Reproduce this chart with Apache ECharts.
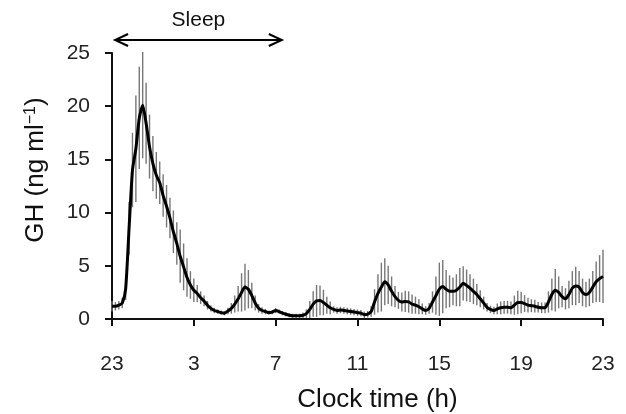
<!DOCTYPE html>
<html>
<head>
<meta charset="utf-8">
<script src="https://cdn.jsdelivr.net/npm/echarts@6.0.0/dist/echarts.min.js"></script>
<style>
  html, body { margin: 0; padding: 0; background: #fff; }
  #chart { width: 626px; height: 414px; }
</style>
</head>
<body>
<div id="chart"></div>
<script>
// GH sampled every 10 min, from 23:00 (0 h) to 23:00 next day (24 h)
var stepHours = 1 / 6;

var ghMean = [
  1.2, 1.2, 1.3, 1.5, 2.8, 8.5, 14.0, 16.0, 18.9, 20.1,
  18.4, 16.2, 14.6, 13.5, 12.8, 11.6, 10.6, 9.5, 8.2, 7.1,
  5.9, 4.9, 3.9, 3.2, 2.7, 2.4, 2.0, 1.7, 1.3, 1.0,
  0.8, 0.7, 0.6, 0.55, 0.75, 1.0, 1.4, 1.9, 2.5, 3.0,
  2.8, 2.2, 1.5, 1.0, 0.8, 0.7, 0.6, 0.65, 0.8, 0.7,
  0.55, 0.45, 0.35, 0.3, 0.3, 0.3, 0.35, 0.5, 0.9, 1.4,
  1.7, 1.75, 1.55, 1.3, 1.05, 0.9, 0.8, 0.85, 0.8, 0.75,
  0.7, 0.65, 0.6, 0.55, 0.4, 0.45, 0.7, 1.6, 2.4, 3.0,
  3.5, 3.2, 2.6, 2.1, 1.75, 1.6, 1.65, 1.6, 1.4, 1.3,
  1.15, 0.95, 0.8, 1.0, 1.6, 2.2, 2.8, 3.05, 2.8, 2.6,
  2.6, 2.7, 3.0, 3.35, 3.15, 2.9, 2.6, 2.3, 1.9, 1.5,
  1.1, 0.9, 0.8, 0.95, 1.05, 1.1, 1.1, 1.05, 1.3, 1.55,
  1.55, 1.45, 1.3, 1.25, 1.2, 1.1, 1.05, 1.05, 1.6, 2.3,
  2.7, 2.5, 2.1, 1.9, 2.3, 2.9, 3.1, 3.0, 2.5, 2.3,
  2.5, 3.0, 3.5, 3.8, 4.0
];

var ghSE = [
  0.5, 0.4, 0.4, 0.5, 1.0, 2.5, 3.5, 5.0, 4.8, 5.0,
  3.8, 3.0, 2.6, 2.2, 2.0, 2.0, 2.0, 1.9, 2.0, 2.0,
  2.5, 2.2, 1.8, 1.3, 1.1, 0.8, 0.6, 0.5, 0.4, 0.3,
  0.25, 0.2, 0.2, 0.2, 0.3, 0.5, 0.8, 1.2, 1.8, 2.2,
  1.8, 1.2, 0.7, 0.4, 0.3, 0.25, 0.2, 0.2, 0.25, 0.2,
  0.2, 0.2, 0.2, 0.2, 0.2, 0.2, 0.25, 0.4, 0.8, 1.2,
  1.5, 1.4, 1.2, 0.8, 0.6, 0.3, 0.3, 0.3, 0.3, 0.3,
  0.3, 0.3, 0.3, 0.3, 0.3, 0.3, 0.5, 1.2, 1.8, 2.3,
  2.2, 1.8, 1.4, 1.0, 0.8, 0.9, 1.0, 1.0, 0.9, 0.8,
  0.7, 0.5, 0.4, 0.5, 1.0, 1.8, 2.5, 2.5, 1.8, 1.5,
  1.3, 1.5, 1.8, 1.6, 1.5, 1.3, 1.2, 1.0, 0.8, 0.6,
  0.4, 0.35, 0.35, 0.5, 0.6, 0.6, 0.6, 0.6, 0.9, 1.1,
  1.0, 0.8, 0.7, 0.6, 0.6, 0.5, 0.5, 0.5, 1.0, 1.5,
  2.0, 1.5, 1.0, 1.0, 1.3, 1.6, 1.8, 1.5, 1.3, 1.2,
  1.3, 1.5, 1.9, 2.2, 2.5
];

// sleep period, hours after 23:00
var sleepSpan = [0.15, 8.3];

var font = 'Liberation Sans, Arial, Helvetica, sans-serif';

var lineData = ghMean.map(function (v, i) { return [i * stepHours, v]; });
var barData = ghMean.map(function (v, i) { return [i * stepHours, v - ghSE[i], v + ghSE[i]]; });

var chart = echarts.init(document.getElementById('chart'));

chart.setOption({
  animation: false,
  grid: { left: 112, right: 23, top: 53, bottom: 95, containLabel: false, outerBoundsMode: 'none' },
  xAxis: {
    type: 'value',
    min: 0,
    max: 24,
    interval: 4,
    offset: 14,
    name: 'Clock time (h)',
    nameLocation: 'middle',
    nameGap: 54,
    nameTextStyle: { fontSize: 26, color: '#111', fontFamily: font, padding: [0, 0, 0, 40] },
    axisLine: { show: true, lineStyle: { color: '#111', width: 2 } },
    axisTick: { show: true, inside: false, length: 7, lineStyle: { color: '#111', width: 2 } },
    axisLabel: {
      fontSize: 21, color: '#222', fontFamily: font, margin: 21,
      formatter: function (v) { return String((23 + v) % 24); }
    },
    splitLine: { show: false }
  },
  yAxis: {
    type: 'value',
    min: 0,
    max: 25,
    interval: 5,
    name: 'GH (ng ml{sup|−1})',
    nameLocation: 'middle',
    nameGap: 63,
    nameTextStyle: {
      fontSize: 26, color: '#111', fontFamily: font, padding: [0, 0, 0, 32],
      rich: { sup: { fontSize: 16, fontFamily: font, color: '#111', verticalAlign: 'top', padding: [0, 0, 9, 0] } }
    },
    axisLine: { show: true, lineStyle: { color: '#111', width: 2 } },
    axisTick: { show: true, inside: false, length: 7, lineStyle: { color: '#111', width: 2 } },
    axisLabel: { fontSize: 21, color: '#222', fontFamily: font, margin: 22 },
    splitLine: { show: false }
  },
  series: [
    {
      name: 'SE',
      type: 'custom',
      data: barData,
      encode: { x: 0, y: [1, 2] },
      renderItem: function (params, api) {
        var lo = api.coord([api.value(0), api.value(1)]);
        var hi = api.coord([api.value(0), api.value(2)]);
        return {
          type: 'line',
          shape: { x1: lo[0], y1: lo[1], x2: hi[0], y2: hi[1] },
          style: { stroke: '#777', lineWidth: 1.4 }
        };
      },
      z: 1
    },
    {
      name: 'GH',
      type: 'line',
      data: lineData,
      showSymbol: false,
      symbol: 'none',
      smooth: 0.2,
      lineStyle: { color: '#000', width: 3 },
      z: 2
    }
  ]
});

// sleep arrow above the plot
var p0 = chart.convertToPixel({ gridIndex: 0 }, [sleepSpan[0], 25]);
var p1 = chart.convertToPixel({ gridIndex: 0 }, [sleepSpan[1], 25]);
var ay = 40;
chart.setOption({
  graphic: [
    { type: 'line', shape: { x1: p0[0], y1: ay, x2: p1[0], y2: ay }, style: { stroke: '#000', lineWidth: 2 } },
    { type: 'polyline', shape: { points: [[p0[0] + 13, ay - 6], [p0[0], ay], [p0[0] + 13, ay + 6]] }, style: { stroke: '#000', lineWidth: 2, fill: null } },
    { type: 'polyline', shape: { points: [[p1[0] - 13, ay - 6], [p1[0], ay], [p1[0] - 13, ay + 6]] }, style: { stroke: '#000', lineWidth: 2, fill: null } },
    {
      type: 'text', x: (p0[0] + p1[0]) / 2, y: 20,
      style: { text: 'Sleep', fontSize: 21, fontFamily: font, fill: '#111', align: 'center', verticalAlign: 'middle' }
    }
  ]
});
</script>
</body>
</html>
